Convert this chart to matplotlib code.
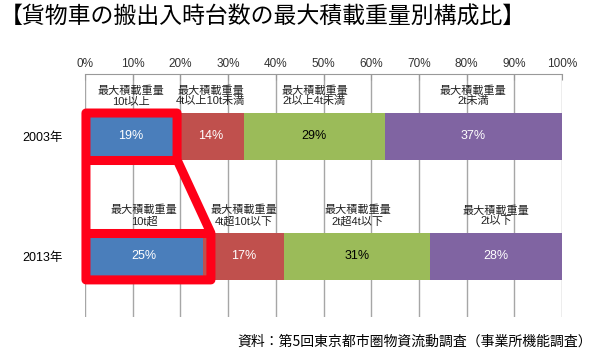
import matplotlib
matplotlib.use('Agg')
import matplotlib.pyplot as plt
from matplotlib.patches import Polygon

plt.rcParams['font.family'] = ['Liberation Sans', 'Noto Sans CJK JP', 'DejaVu Sans']

TITLE = '【貨物車の搬出入時台数の最大積載重量別構成比】'
SOURCE = '資料：第5回東京都市圏物資流動調査（事業所機能調査）'

years = ['2003年', '2013年']
share_2003 = [19.3, 14.1, 29.4, 37.2]
share_2013 = [24.8, 17.0, 30.6, 27.6]
labels_2003 = ['最大積載重量\n10t以上', '最大積載重量\n4t以上10t未満',
               '最大積載重量\n2t以上4t未満', '最大積載重量\n2t未満']
labels_2013 = ['最大積載重量\n10t超', '最大積載重量\n4t超10t以下',
               '最大積載重量\n2t超4t以下', '最大積載重量\n2t以下']

COLORS = ['#4A7EBB', '#C0504D', '#9BBB59', '#8064A2']
TEXT_COLORS = ['white', 'white', 'black', 'white']
BAR_H = 0.39

fig = plt.figure(figsize=(6, 3.52), dpi=100)
ax = fig.add_axes([85 / 600, 1 - 317 / 352, 477 / 600, 243 / 352])

for row, (shares, cats) in enumerate([(share_2003, labels_2003), (share_2013, labels_2013)]):
    left = 0
    for i, v in enumerate(shares):
        ax.barh(row, v, left=left, height=BAR_H, color=COLORS[i], zorder=2)
        mid = left + v / 2
        ax.text(mid, row, f'{round(v)}%', ha='center', va='center',
                color=TEXT_COLORS[i], fontsize=9, zorder=3)
        ax.text(mid, row - 0.34, cats[i], ha='center', va='center',
                fontsize=8, color='#222222', linespacing=1.1, zorder=3)
        left += v

ax.set_xlim(0, 100)
ax.set_ylim(1.504, -0.52)
ax.set_xticks(range(0, 101, 10))
ax.set_xticklabels([f'{t}%' for t in range(0, 101, 10)], fontsize=8.5, color='#333333')
ax.xaxis.tick_top()
ax.tick_params(axis='x', length=4, direction='in', color='#999999', pad=3)
ax.set_yticks([0, 1])
ax.set_yticklabels(years, fontsize=9)
ax.tick_params(axis='y', length=0, pad=16)
ax.grid(axis='x', color='#A6A6A6', linewidth=1, zorder=0)
for side in ['left', 'right', 'bottom']:
    ax.spines[side].set_visible(False)
ax.spines['top'].set_color('#999999')

# red highlight around the 10t+ segments
x0 = 0.2
r03 = share_2003[0]
r13 = share_2013[0] + 1.6
t03, b03 = -BAR_H / 2, BAR_H / 2
t13, b13 = 1 - BAR_H / 2, 1 + BAR_H / 2
red = '#FF0018'
outline = Polygon([(x0, t03), (r03, t03), (r03, b03), (r13, t13), (r13, b13), (x0, b13)],
                  closed=True, fill=False, edgecolor=red, linewidth=6.5,
                  joinstyle='round', clip_on=False, zorder=4)
ax.add_patch(outline)
ax.plot([x0, r03], [b03, b03], color=red, linewidth=6.5, solid_capstyle='butt', zorder=4)
ax.plot([x0, r13], [t13, t13], color=red, linewidth=6.5, solid_capstyle='butt', zorder=4)

fig.text(0.0, 1 - 17 / 352, TITLE, fontsize=16.5, ha='left', va='center',
         family=['Noto Sans CJK JP'])
fig.text(592 / 600, 1 - 342 / 352, SOURCE, fontsize=10, ha='right', va='center',
         family=['Noto Sans CJK JP'])

fig.savefig('out.png', dpi=100, facecolor='white')
